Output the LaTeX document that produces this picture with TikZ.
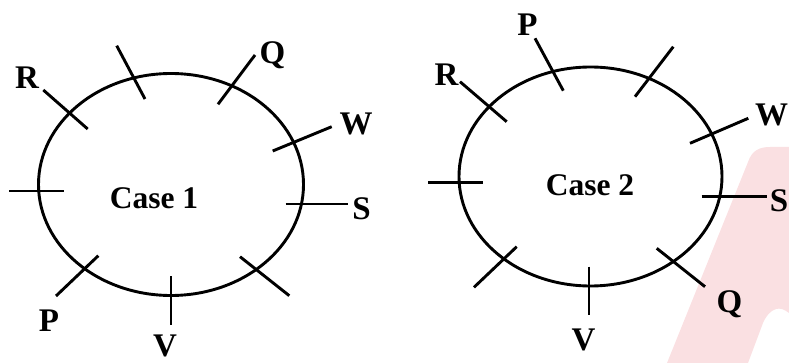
\documentclass[tikz,border=0pt]{standalone}
\usepackage{fontspec}
\setmainfont{Liberation Serif}
\usetikzlibrary{shapes.geometric}
\definecolor{wmpink}{RGB}{250,224,226}
\begin{document}
\begin{tikzpicture}[x=1pt,y=-1pt,
  ring/.style={draw=black,line width=2.9pt},
  tick/.style={draw=black,line width=2.9pt},
  lbl/.style={font=\fontsize{33}{33}\selectfont\bfseries,inner sep=0pt,text height=21.8pt,text depth=0pt},
  casetxt/.style={font=\fontsize{31.5}{31.5}\selectfont\bfseries,inner sep=0pt,text height=20.8pt,text depth=0pt}]
\useasboundingbox (0,0) rectangle (789,363);
% watermark
\fill[wmpink] (667,363) -- (748,162) .. controls (752,150) and (760,147) .. (770,147)
  -- (789,147) -- (789,313) .. controls (784,309) and (780,308) .. (776,309)
  .. controls (770,311) and (766,316) .. (763,323) -- (748,363) -- cycle;

% ---------------- Case 1 ----------------
\node[ring,ellipse,minimum width=265pt,minimum height=222pt,inner sep=0pt] (E1) at (171,184.5) {};
\node[casetxt] (C1) at (154,198) {Case 1};
\node[lbl] (R1) at (27,77.5) {R};
\node[lbl] (Q1) at (272.5,53) {Q};
\node[lbl] (W1) at (356,123.5) {W};
\node[lbl] (S1) at (361.5,208.5) {S};
\node[lbl] (P1) at (49,321) {P};
\node[lbl] (V1) at (165,345.5) {V};
\coordinate (a1) at (43.3,90);   \coordinate (a2) at (87.7,129);
\coordinate (b1) at (116.7,45.7); \coordinate (b2) at (145,99);
\coordinate (c1) at (255,55);   \coordinate (c2) at (218,104.3);
\coordinate (d1) at (331.7,126.7); \coordinate (d2) at (272.7,151);
\coordinate (e1) at (285.7,204); \coordinate (e2) at (348.3,204);
\coordinate (f1) at (240,256.7); \coordinate (f2) at (289.3,295.7);
\coordinate (g1) at (171,276);  \coordinate (g2) at (171,325);
\coordinate (h1) at (98.3,255.7); \coordinate (h2) at (56,296);
\coordinate (i1) at (9.3,191);  \coordinate (i2) at (64.3,191);
\foreach \p in {a,b,c,d,e,f,g,h,i} \draw[tick] (\p1) -- (\p2);

% ---------------- Case 2 ----------------
\node[ring,ellipse,minimum width=263pt,minimum height=219pt,inner sep=0pt] (E2) at (590.5,176.5) {};
\node[casetxt] (C2) at (590,185) {Case 2};
\node[lbl] (R2) at (446.5,75) {R};
\node[lbl] (P2) at (527.5,25) {P};
\node[lbl] (W2) at (771.5,115) {W};
\node[lbl] (S2) at (779,201) {S};
\node[lbl] (Q2) at (729.5,302) {Q};
\node[lbl] (V2) at (583.5,340) {V};
\coordinate (m1) at (460,81.7);   \coordinate (m2) at (506.7,121.7);
\coordinate (n1) at (535,38.3);   \coordinate (n2) at (563.3,90.7);
\coordinate (o1) at (673.3,46.7); \coordinate (o2) at (635,96.7);
\coordinate (p1) at (748.3,118.3); \coordinate (p2) at (690,143.3);
\coordinate (q1) at (701.7,196.7); \coordinate (q2) at (766.7,196.7);
\coordinate (r1) at (656.7,248.3); \coordinate (r2) at (705,286.7);
\coordinate (s1) at (589,266.7);  \coordinate (s2) at (589,315);
\coordinate (t1) at (516.7,246.7); \coordinate (t2) at (474,287.3);
\coordinate (u1) at (428.3,182.3); \coordinate (u2) at (482.7,182.3);
\foreach \p in {m,n,o,p,q,r,s,t,u} \draw[tick] (\p1) -- (\p2);
\end{tikzpicture}
\end{document}
